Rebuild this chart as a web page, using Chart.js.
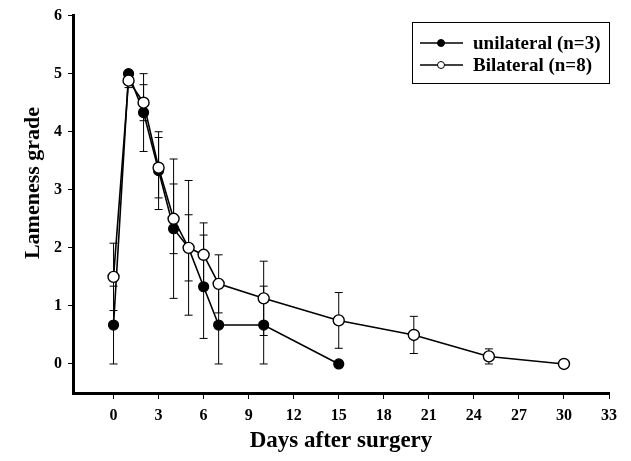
<!DOCTYPE html>
<html>
<head>
<meta charset="utf-8">
<script src="https://cdn.jsdelivr.net/npm/chart.js@4.4.1/dist/chart.umd.min.js"></script>
<style>
html,body{margin:0;padding:0;background:#fff;}
#wrap{width:631px;height:461px;position:relative;}
</style>
</head>
<body>
<div id="wrap"><canvas id="c"></canvas></div>
<script>
// ---- data ----
const uniDays = [0, 1, 2, 3, 4, 5, 6, 7, 10, 15];
const uniMean = [0.67, 5.0, 4.33, 3.33, 2.33, 2.0, 1.33, 0.67, 0.67, 0.0];
const uniErr  = [0.67, 0.0, 0.67, 0.67, 1.2, 1.16, 0.89, 0.67, 0.67, 0.0];

const bilDays = [0, 1, 2, 3, 4, 5, 6, 7, 10, 15, 20, 25, 30];
const bilMean = [1.5, 4.88, 4.5, 3.38, 2.5, 2.0, 1.88, 1.38, 1.13, 0.75, 0.5, 0.13, 0.0];
const bilErr  = [0.58, 0.12, 0.31, 0.52, 0.6, 0.57, 0.55, 0.5, 0.64, 0.48, 0.32, 0.13, 0.0];

const xTicks = [0, 3, 6, 9, 12, 15, 18, 21, 24, 27, 30, 33];
const yTicks = [0, 1, 2, 3, 4, 5, 6];

const labels = ['unilateral (n=3)', 'Bilateral (n=8)'];
const xTitle = 'Days after surgery';
const yTitle = 'Lameness grade';

const SERIF = "'Liberation Serif', 'Times New Roman', Times, serif";

const toPts = (xs, ys) => xs.map((d, i) => ({x: d, y: ys[i]}));

const errorBars = {
  id: 'errorBars',
  beforeDatasetsDraw(chart) {
    const {ctx, scales: {x, y}} = chart;
    ctx.save();
    ctx.strokeStyle = '#000';
    ctx.lineWidth = 1;
    chart.data.datasets.forEach(ds => {
      const errs = ds.errors;
      ds.data.forEach((p, i) => {
        const e = errs[i];
        if (!e) return;
        const px = x.getPixelForValue(p.x);
        const pt = y.getPixelForValue(p.y + e);
        const pb = y.getPixelForValue(p.y - e);
        ctx.beginPath();
        ctx.moveTo(px, pt); ctx.lineTo(px, pb);
        ctx.moveTo(px - 4, pt); ctx.lineTo(px + 4, pt);
        ctx.moveTo(px - 4, pb); ctx.lineTo(px + 4, pb);
        ctx.stroke();
      });
    });
    ctx.restore();
  }
};

const yTitlePlugin = {
  id: 'yTitlePlugin',
  afterDraw(chart) {
    const ctx = chart.ctx;
    ctx.save();
    ctx.translate(33, 183);
    ctx.rotate(-Math.PI / 2);
    ctx.font = 'bold 22px ' + SERIF;
    ctx.fillStyle = '#000';
    ctx.textAlign = 'center';
    ctx.textBaseline = 'middle';
    ctx.fillText(yTitle, 0, 0);
    ctx.restore();
  }
};

const customLegend = {
  id: 'customLegend',
  afterDraw(chart) {
    const ctx = chart.ctx;
    ctx.save();
    ctx.strokeStyle = '#000';
    ctx.lineWidth = 1;
    ctx.strokeRect(412.5, 22.5, 197, 61);
    const rows = [
      {y: 43, fill: '#000', text: labels[0]},
      {y: 65, fill: '#fff', text: labels[1]}
    ];
    ctx.font = 'bold 19px ' + SERIF;
    ctx.textBaseline = 'middle';
    ctx.textAlign = 'left';
    rows.forEach(r => {
      ctx.lineWidth = 1.5;
      ctx.beginPath();
      ctx.moveTo(420, r.y); ctx.lineTo(463, r.y);
      ctx.stroke();
      ctx.beginPath();
      ctx.arc(441, r.y, 3.5, 0, Math.PI * 2);
      ctx.fillStyle = r.fill;
      ctx.fill();
      ctx.lineWidth = 1;
      ctx.stroke();
      ctx.fillStyle = '#000';
      ctx.fillText(r.text, 473, r.y + 1);
    });
    ctx.restore();
  }
};

new Chart(document.getElementById('c'), {
  type: 'line',
  data: {
    datasets: [
      {
        label: labels[0],
        data: toPts(uniDays, uniMean),
        errors: uniErr,
        borderColor: '#000',
        borderWidth: 1.6,
        backgroundColor: '#000',
        pointBackgroundColor: '#000',
        pointBorderColor: '#000',
        pointRadius: 5,
        pointBorderWidth: 1.2,
        tension: 0,
        order: 1
      },
      {
        label: labels[1],
        data: toPts(bilDays, bilMean),
        errors: bilErr,
        borderColor: '#000',
        borderWidth: 1.6,
        backgroundColor: '#fff',
        pointBackgroundColor: '#fff',
        pointBorderColor: '#000',
        pointRadius: 5.5,
        pointBorderWidth: 1.4,
        tension: 0,
        order: 0
      }
    ]
  },
  options: {
    responsive: true,
    maintainAspectRatio: false,
    animation: false,
    layout: {padding: {top: 15, right: 22, left: 0, bottom: 0}},
    plugins: {legend: {display: false}, tooltip: {enabled: false}},
    scales: {
      x: {
        type: 'linear',
        min: -2.7,
        max: 33,
        afterBuildTicks: s => { s.ticks = xTicks.map(v => ({value: v})); },
        afterFit: s => { s.height = 68; },
        border: {display: true, color: '#000', width: 3},
        grid: {display: true, drawOnChartArea: false, drawTicks: true, tickLength: 6, tickColor: '#000', tickWidth: 1},
        ticks: {color: '#000', padding: 7, maxRotation: 0, autoSkip: false, font: {family: SERIF, size: 16, weight: 'bold'}},
        title: {display: true, text: xTitle, color: '#000', padding: {top: 0, bottom: 6}, font: {family: SERIF, size: 23, weight: 'bold'}}
      },
      y: {
        type: 'linear',
        min: -0.5,
        max: 6,
        afterBuildTicks: s => { s.ticks = yTicks.map(v => ({value: v})); },
        afterFit: s => { s.width = 73; },
        border: {display: true, color: '#000', width: 3},
        grid: {display: true, drawOnChartArea: false, drawTicks: true, tickLength: 5, tickColor: '#000', tickWidth: 1},
        ticks: {color: '#000', padding: 6, font: {family: SERIF, size: 16, weight: 'bold'}},
        title: {display: false}
      }
    }
  },
  plugins: [errorBars, yTitlePlugin, customLegend]
});
</script>
</body>
</html>
